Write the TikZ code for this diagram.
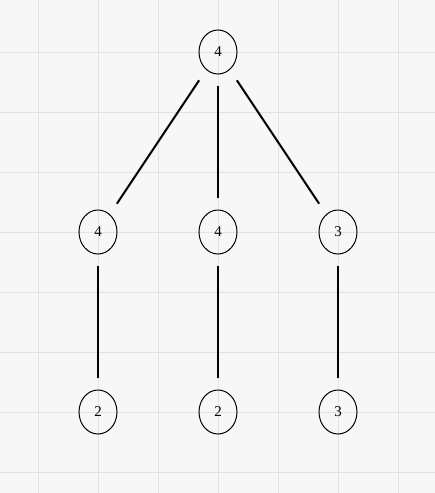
\documentclass[tikz,border=0pt]{standalone}
\usepackage{fontspec}
\setmainfont{Liberation Serif}
\usetikzlibrary{shapes.geometric}
\definecolor{bgcol}{HTML}{F7F7F7}
\definecolor{gridcol}{HTML}{E2E2E2}
\tikzset{
  treenode/.style={ellipse, draw=black, line width=1pt, minimum width=38pt,
    minimum height=44pt, inner sep=0pt, font=\fontsize{15pt}{15pt}\selectfont},
  treeedge/.style={line width=2pt, shorten <=34pt, shorten >=34pt}
}
\begin{document}
\begin{tikzpicture}[x=1pt, y=-1pt]
  % canvas and background grid
  \fill[bgcol] (0,0) rectangle (435,493);
  \useasboundingbox (0,0) rectangle (435,493);
  \foreach \gx in {38,98,...,398} \draw[gridcol, line width=1pt] (\gx,0) -- (\gx,493);
  \foreach \gy in {52,112,...,472} \draw[gridcol, line width=1pt] (0,\gy) -- (435,\gy);
  % tree nodes
  \node[treenode] (r)  at (218,52)  {4};
  \node[treenode] (a)  at (98,232)  {4};
  \node[treenode] (b)  at (218,232) {4};
  \node[treenode] (c)  at (338,232) {3};
  \node[treenode] (a1) at (98,412)  {2};
  \node[treenode] (b1) at (218,412) {2};
  \node[treenode] (c1) at (338,412) {3};
  % edges
  \draw[treeedge] (r.center) -- (a.center);
  \draw[treeedge] (r.center) -- (b.center);
  \draw[treeedge] (r.center) -- (c.center);
  \draw[treeedge] (a.center) -- (a1.center);
  \draw[treeedge] (b.center) -- (b1.center);
  \draw[treeedge] (c.center) -- (c1.center);
\end{tikzpicture}
\end{document}
